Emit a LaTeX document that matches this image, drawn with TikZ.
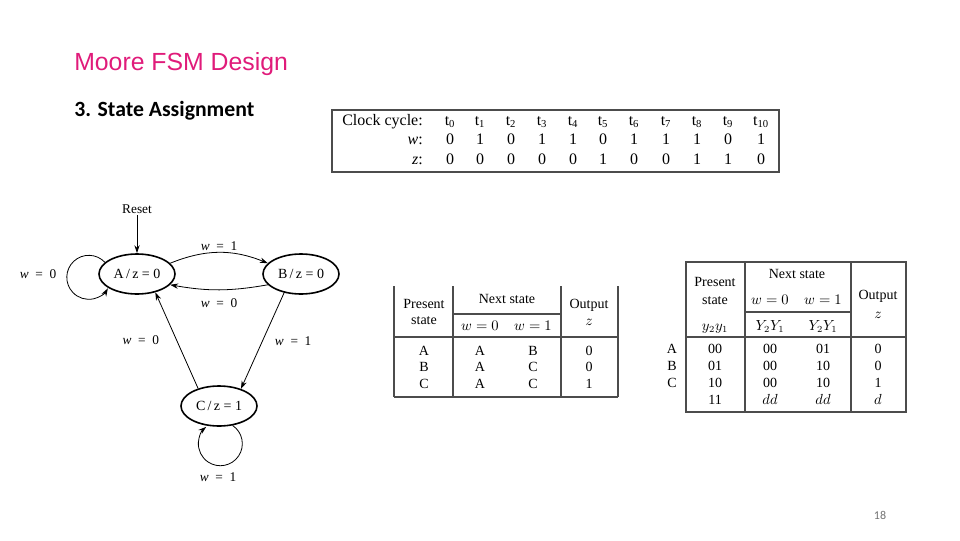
\documentclass[tikz,border=0pt]{standalone}
\usepackage{fontspec}
\setmainfont{Liberation Serif}
\newfontfamily\titlefont{Liberation Sans}
\newfontfamily\slidefont{Carlito}
\usepackage{xcolor}
\usetikzlibrary{shapes.geometric, arrows.meta}
\definecolor{slidepink}{RGB}{224,27,122}
\tikzset{
  state/.style={draw, ellipse, line width=1.2pt, minimum width=57pt, minimum height=30pt,
    inner sep=0pt, font=\fontsize{10.5}{12}\selectfont},
  trans/.style={-{Stealth[length=6pt,width=4pt]}, line width=0.6pt},
  edgelabel/.style={font=\fontsize{10}{12}\selectfont, inner sep=1pt},
  tablerule/.style={black!70, line width=0.8pt},
  cell/.style={font=\fontsize{10.5}{12}\selectfont, inner sep=0pt, text height=7pt, text depth=0pt},
  clockcell/.style={font=\fontsize{12}{14}\selectfont, inner sep=0pt, text height=8pt, text depth=0pt},
}
\newcommand{\weq}[1]{\textit{w}\enspace=\enspace#1}

\begin{document}
\begin{tikzpicture}[x=0.75pt, y=-0.75pt]
        \useasboundingbox (0,0) rectangle (960,540);

        % Slide heading
        \node[anchor=base west, inner sep=0pt, text=slidepink, font=\titlefont\fontsize{18.6}{20}\selectfont] (title) at (74,70) {Moore FSM Design};
        \node[anchor=base west, inner sep=0pt, font=\slidefont\bfseries\fontsize{16.3}{18}\selectfont] (subtitle) at (74,116) {3. State Assignment};
        \node[text=black!55, font=\slidefont\fontsize{9}{10}\selectfont] (pageno) at (880,515) {18};

        % Clock cycle table
        \draw[tablerule] (332,110) rectangle (779,172);
        \node[clockcell, anchor=east] (clk) at (423,120) {Clock cycle:};
        \node[clockcell, anchor=east] (wlab) at (423,139) {\textit{w}:};
        \node[clockcell, anchor=east] (zlab) at (423,159) {\textit{z}:};
        \foreach \x/\w/\z [count=\i from 0] in {450/0/0, 480/1/0, 511/0/0, 542/1/0, 573/1/0, 603/0/1,
            634/1/0, 666/1/0, 697/1/1, 728/0/1, 761/1/0} {
            \node[clockcell] (t\i) at (\x,120) {t\textsubscript{\i}};
            \node[clockcell] (w\i) at (\x,139) {\w};
            \node[clockcell] (z\i) at (\x,159) {\z};
        }

        % State diagram
        \node[edgelabel] (reset) at (137,209) {Reset};
        \node[state] (A) at (137,274) {A\,/\,z = 0};
        \node[state] (B) at (301,274) {B\,/\,z = 0};
        \node[state] (C) at (219,406) {C\,/\,z = 1};

        \draw[trans] (reset) -- (A);
        \draw[trans] (A.160) arc[start angle=43, end angle=330, radius=16.5pt];
        \node[edgelabel] (lblA) at (38,274) {\weq{0}};
        \draw[trans] (A.18) to[bend left=22] node[edgelabel, midway, above] (lblAB) {\weq{1}} (B.162);
        \draw[trans] (B.198) to[bend left=10] node[edgelabel, midway, below=5pt] (lblBA) {\weq{0}} (A.342);
        \draw[trans] (C.140) -- node[edgelabel, midway, left=12pt] (lblCA) {\weq{0}} (A.-45);
        \draw[trans] (B.228) -- node[edgelabel, midway, right=8pt] (lblBC) {\weq{1}} (C.38);
        \draw[trans] (C.-55) arc[start angle=56, end angle=-230, radius=16.5pt];
        \node[edgelabel] (lblC) at (218,477) {\weq{1}};

        % State table
        \foreach \x in {394,453,561,618}
            \draw[tablerule] (\x,286) -- (\x,397);
        \draw[tablerule] (453,314) -- (561,314);
        \draw[tablerule] (394,337) -- (618,337);
        \draw[tablerule] (394,397) -- (618,397);
        \node[cell] (stP) at (424,304) {Present};
        \node[cell] (stS) at (424,320) {state};
        \node[cell] (stN) at (507,299) {Next state};
        \node[cell] (stW0) at (480,326) {$w=0$};
        \node[cell] (stW1) at (533,326) {$w=1$};
        \node[cell] (stO) at (589,304) {Output};
        \node[cell] (stZ) at (589,321) {$z$};
        \foreach \y/\ps/\nz/\no/\out [count=\r] in {351/A/A/B/0, 367/B/A/C/0, 384/C/A/C/1} {
            \node[cell] (ps\r) at (424,\y) {\ps};
            \node[cell] (nz\r) at (480,\y) {\nz};
            \node[cell] (no\r) at (533,\y) {\no};
            \node[cell] (out\r) at (589,\y) {\out};
        }

        % State-assigned table
        \draw[tablerule] (686,262) rectangle (906,412);
        \draw[tablerule] (745,262) -- (745,412);
        \draw[tablerule] (851,262) -- (851,412);
        \draw[tablerule] (745,312) -- (851,312);
        \draw[tablerule] (686,337) -- (906,337);
        \node[cell] (asP) at (715,282) {Present};
        \node[cell] (asS) at (715,300) {state};
        \node[cell] (asY) at (715,326) {$y_2y_1$};
        \node[cell] (asN) at (797,274) {Next state};
        \node[cell] (asW0) at (770,300) {$w=0$};
        \node[cell] (asW1) at (823,300) {$w=1$};
        \node[cell] (asY0) at (770,326) {$Y_2Y_1$};
        \node[cell] (asY1) at (823,326) {$Y_2Y_1$};
        \node[cell] (asO) at (878,295) {Output};
        \node[cell] (asZ) at (878,314) {$z$};
        \foreach \y/\st/\ps/\nz/\no/\out [count=\r] in {349/A/00/00/01/0, 366/B/01/00/10/0, 383/C/10/00/10/1} {
            \node[cell] (st\r) at (672,\y) {\st};
            \node[cell] (aps\r) at (715,\y) {\ps};
            \node[cell] (anz\r) at (770,\y) {\nz};
            \node[cell] (ano\r) at (823,\y) {\no};
            \node[cell] (aout\r) at (878,\y) {\out};
        }
        \node[cell] (aps4) at (715,400) {11};
        \node[cell] (anz4) at (770,400) {$dd$};
        \node[cell] (ano4) at (823,400) {$dd$};
        \node[cell] (aout4) at (878,400) {$d$};
    \end{tikzpicture}
\end{document}
